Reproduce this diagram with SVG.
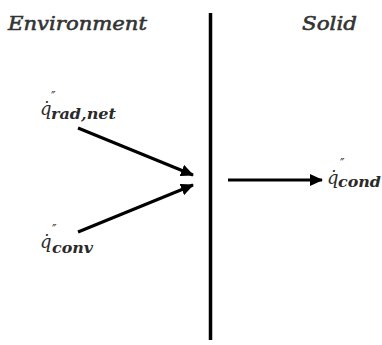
<svg xmlns="http://www.w3.org/2000/svg" width="382" height="345" viewBox="0 0 382 345">
<defs>
<style>
.lbl{font-family:"DejaVu Serif","Liberation Serif",serif;font-style:italic;fill:#2a2a2a;}
.hd{fill:#333;stroke:#333;stroke-width:0.6;}
.sub{font-weight:bold;}
.conn{stroke:#000;stroke-width:3;fill:none;}
</style>
<marker id="ah" markerUnits="userSpaceOnUse" markerWidth="14" markerHeight="12" refX="12" refY="6" orient="auto">
<path d="M0,0 L13,6 L0,12 Z" fill="#000"/>
</marker>
</defs>
<rect width="382" height="345" fill="#fff"/>
<g id="wall">
<line x1="210.5" y1="13" x2="210.5" y2="340" stroke="#000" stroke-width="3.5"/>
</g>
<g id="env-label"><text class="lbl hd" x="8" y="30" font-size="19" textLength="139" lengthAdjust="spacingAndGlyphs">Environment</text></g>
<g id="solid-label"><text class="lbl hd" x="302" y="30" font-size="19" textLength="55" lengthAdjust="spacingAndGlyphs">Solid</text></g>
<g id="connectors">
<line class="conn" x1="78" y1="128" x2="193" y2="175" marker-end="url(#ah)"/>
<line class="conn" x1="78" y1="232" x2="193" y2="185" marker-end="url(#ah)"/>
<line class="conn" x1="228" y1="180" x2="322" y2="180" marker-end="url(#ah)"/>
</g>
<g id="q-rad">
<text class="lbl" x="40" y="115" font-size="18">q̇<tspan x="51" y="101" font-size="12">″</tspan><tspan class="sub" x="51" y="119" font-size="15" textLength="65" lengthAdjust="spacingAndGlyphs">rad,net</tspan></text>
</g>
<g id="q-conv">
<text class="lbl" x="40" y="248" font-size="18">q̇<tspan x="52" y="234" font-size="12">″</tspan><tspan class="sub" x="52" y="253" font-size="15" textLength="41" lengthAdjust="spacingAndGlyphs">conv</tspan></text>
</g>
<g id="q-cond">
<text class="lbl" x="327" y="184" font-size="18">q̇<tspan x="340" y="168" font-size="12">″</tspan><tspan class="sub" x="338" y="187" font-size="15" textLength="43" lengthAdjust="spacingAndGlyphs">cond</tspan></text>
</g>
</svg>
